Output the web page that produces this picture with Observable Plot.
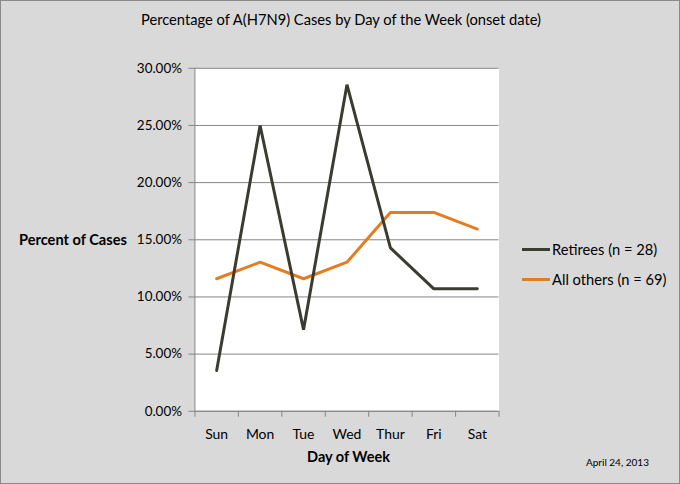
<!DOCTYPE html>
<html>
<head>
<meta charset="utf-8">
<script src="https://cdn.jsdelivr.net/npm/d3@7"></script>
<script src="https://cdn.jsdelivr.net/npm/@observablehq/plot@0.6"></script>
<style>
  html, body { margin: 0; padding: 0; background: #fff; }
  #wrap { position: relative; width: 678px; height: 482px; background: #d9d9d9; border: 1px solid #8a8a8a; font-family: Lato, "Open Sans", sans-serif; color: #000; overflow: hidden; }
  #wrap svg { position: absolute; left: -1px; top: -1px; }
  .t { position: absolute; white-space: nowrap; }
  .title { left: 0; width: 680px; text-align: center; top: 9px; font-size: 14.7px; }
  .ylab { left: 18px; top: 230px; font-size: 14.6px; font-weight: bold; }
  .xlab { left: 195px; width: 305px; text-align: center; top: 447px; font-size: 14.5px; font-weight: bold; }
  .date { left: 585px; top: 455px; font-size: 10px; }
  .leg { left: 521px; font-size: 14.7px; display: flex; align-items: center; }
  .leg span.sw { display: inline-block; width: 28px; height: 3px; margin-right: 2px; }
</style>
</head>
<body>
<div id="wrap"></div>
<script>
const days = ["Sun", "Mon", "Tue", "Wed", "Thur", "Fri", "Sat"];
const retirees = [3.57, 25.00, 7.14, 28.57, 14.29, 10.71, 10.71];
const others = [11.59, 13.04, 11.59, 13.04, 17.39, 17.39, 15.94];
const seriesNames = ["Retirees (n = 28)", "All others (n = 69)"];
const seriesColors = ["#3b3b30", "#e37d22"];
const yTicks = [0, 5, 10, 15, 20, 25, 30];

const rows = [];
days.forEach((d, i) => {
  rows.push({day: d, i: i + 0.5, v: retirees[i], s: seriesNames[0]});
  rows.push({day: d, i: i + 0.5, v: others[i], s: seriesNames[1]});
});

const chart = Plot.plot({
  width: 680,
  height: 484,
  marginLeft: 195,
  marginRight: 180,
  marginTop: 68,
  marginBottom: 72,
  style: {background: "transparent", fontFamily: "Lato, 'Open Sans', sans-serif", fontSize: "13px", color: "#000"},
  x: {domain: [0, days.length], axis: null, label: null},
  y: {domain: [0, 30], axis: null, label: null},
  color: {domain: seriesNames, range: seriesColors},
  marks: [
    Plot.frame({fill: "white", stroke: "none"}),
    Plot.gridY(yTicks, {stroke: "#868686", strokeOpacity: 1, strokeWidth: 1}),
    Plot.ruleX([0], {stroke: "#868686"}),
    Plot.ruleY([0], {stroke: "#868686"}),
    Plot.axisY({ticks: yTicks, tickSize: 6, tickPadding: 7, stroke: "#868686", label: null, tickFormat: d => d.toFixed(2) + "%", fontSize: 13.5}),
    Plot.axisX({ticks: d3.range(0, days.length + 1), tickSize: 6, label: null, tickFormat: () => "", stroke: "#868686"}),
    Plot.axisX({ticks: days.map((d, i) => i + 0.5), tickSize: 0, tickPadding: 18, label: null, tickFormat: v => days[Math.round(v - 0.5)], fontSize: 14}),
    Plot.line(rows.filter(r => r.s === seriesNames[1]), {x: "i", y: "v", stroke: "s", strokeWidth: 3, strokeLinejoin: "miter"}),
    Plot.line(rows.filter(r => r.s === seriesNames[0]), {x: "i", y: "v", stroke: "s", strokeWidth: 3, strokeLinejoin: "miter"})
  ]
});

const wrap = document.getElementById("wrap");
wrap.appendChild(chart);

function addText(cls, txt) {
  const el = document.createElement("div");
  el.className = "t " + cls;
  el.textContent = txt;
  wrap.appendChild(el);
  return el;
}
addText("title", "Percentage of A(H7N9) Cases by Day of the Week (onset date)");
addText("ylab", "Percent of Cases");
addText("xlab", "Day of Week");
addText("date", "April 24, 2013");
seriesNames.forEach((n, k) => {
  const el = document.createElement("div");
  el.className = "t leg";
  el.style.top = (239 + k * 30) + "px";
  const sw = document.createElement("span");
  sw.className = "sw";
  sw.style.background = seriesColors[k];
  el.appendChild(sw);
  el.appendChild(document.createTextNode(n));
  wrap.appendChild(el);
});
</script>
</body>
</html>
